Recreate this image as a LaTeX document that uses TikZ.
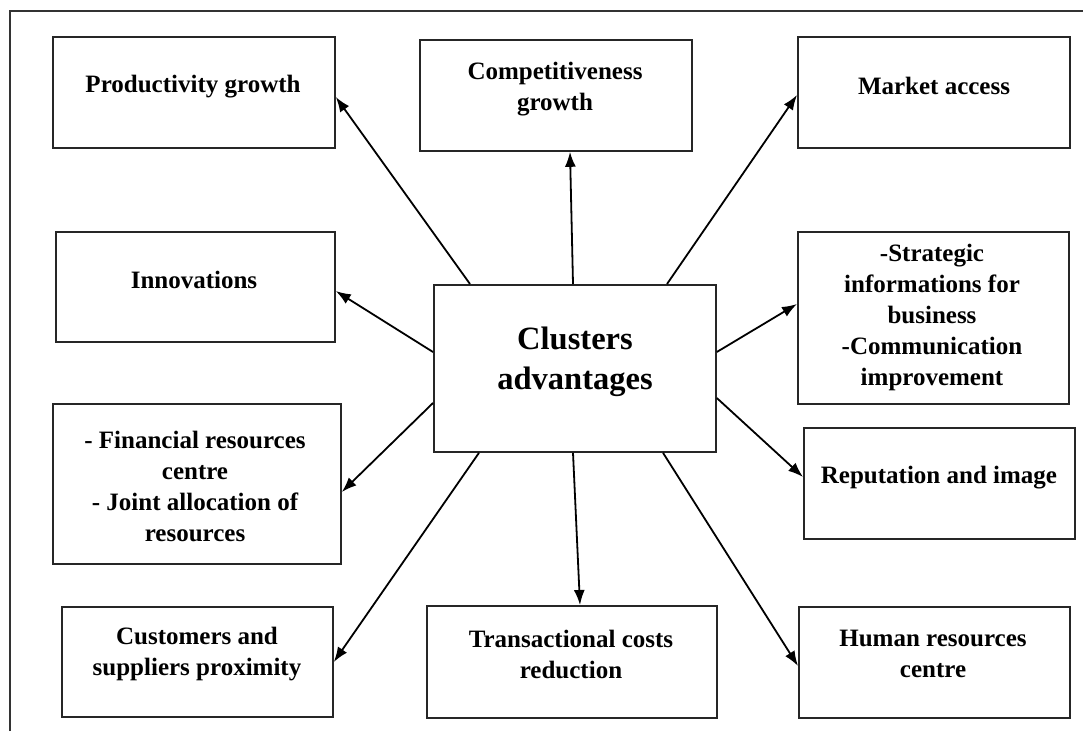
\documentclass[tikz,border=0pt]{standalone}
\usepackage{fontspec}
\setmainfont{Liberation Serif}
\usetikzlibrary{calc,arrows.meta}
\tikzset{
  box/.style={draw=black!85, line width=1.8pt, inner sep=0pt, anchor=north west},
  lbl/.style={align=center, inner sep=0pt, font=\fontsize{25}{31}\selectfont\bfseries},
  biglbl/.style={align=center, inner sep=0pt, font=\fontsize{32.5}{40}\selectfont\bfseries},
  conn/.style={line width=1.8pt, -{Latex[length=15pt,width=11pt]}},
  frame/.style={draw=black!80, line width=2pt}
}
\begin{document}
\begin{tikzpicture}[x=1pt,y=-1pt]
\useasboundingbox (0,0) rectangle (1083,731);
\draw[frame] (10,731) -- (10,11) -- (1083,11);
% boxes
\node[box, minimum width=282pt, minimum height=111pt] (prod) at (52,36) {};
\node[box, minimum width=272pt, minimum height=111pt] (comp) at (419,39) {};
\node[box, minimum width=272pt, minimum height=111pt] (mark) at (797,36) {};
\node[box, minimum width=279pt, minimum height=110pt] (innov) at (55,231) {};
\node[box, minimum width=282pt, minimum height=167pt] (c) at (433,284) {};
\node[box, minimum width=271pt, minimum height=172pt] (strat) at (797,231) {};
\node[box, minimum width=288pt, minimum height=160pt] (fin) at (52,403) {};
\node[box, minimum width=271pt, minimum height=111pt] (rep) at (803,427) {};
\node[box, minimum width=271pt, minimum height=110pt] (cust) at (61,606) {};
\node[box, minimum width=290pt, minimum height=112pt] (trans) at (426,605) {};
\node[box, minimum width=271pt, minimum height=111pt] (human) at (798,606) {};
% texts
\node[lbl] (prodT) at (193,87) {Productivity growth};
\node[lbl] (compT) at (555,89) {Competitiveness\\growth};
\node[lbl] (markT) at (934,86) {Market access};
\node[lbl] (innovT) at (194,280) {Innovations};
\node[biglbl] (cT) at (575,362) {Clusters\\advantages};
\node[lbl] (stratT) at (932,317) {-Strategic\\informations for\\business\\-Communication\\improvement};
\node[lbl] (finT) at (195,486) {- Financial resources\\centre\\- Joint allocation of\\resources};
\node[lbl] (repT) at (939,478) {Reputation and image};
\node[lbl] (custT) at (197,654) {Customers and\\suppliers proximity};
\node[lbl] (transT) at (571,654) {Transactional costs\\reduction};
\node[lbl] (humanT) at (933,654) {Human resources\\centre};
% connectors
\draw[conn] ($(c.north west)+(37,0)$) -- ($(prod.north east)+(0,61)$);
\draw[conn] ($(c.north west)+(140,0)$) -- ($(comp.south west)+(151,0)$);
\draw[conn] ($(c.north west)+(234,0)$) -- ($(mark.north west)+(0,59)$);
\draw[conn] ($(c.north west)+(0,68)$) -- ($(innov.north east)+(0,60)$);
\draw[conn] ($(c.north east)+(0,68)$) -- ($(strat.north west)+(0,73)$);
\draw[conn] ($(c.north west)+(0,119)$) -- ($(fin.north east)+(0,89)$);
\draw[conn] ($(c.north east)+(0,114)$) -- ($(rep.north west)+(0,50)$);
\draw[conn] ($(c.south west)+(46,0)$) -- ($(cust.north east)+(0,56)$);
\draw[conn] ($(c.south west)+(140,0)$) -- ($(trans.north west)+(154,0)$);
\draw[conn] ($(c.south west)+(230,0)$) -- ($(human.north west)+(0,60)$);
\end{tikzpicture}
\end{document}
